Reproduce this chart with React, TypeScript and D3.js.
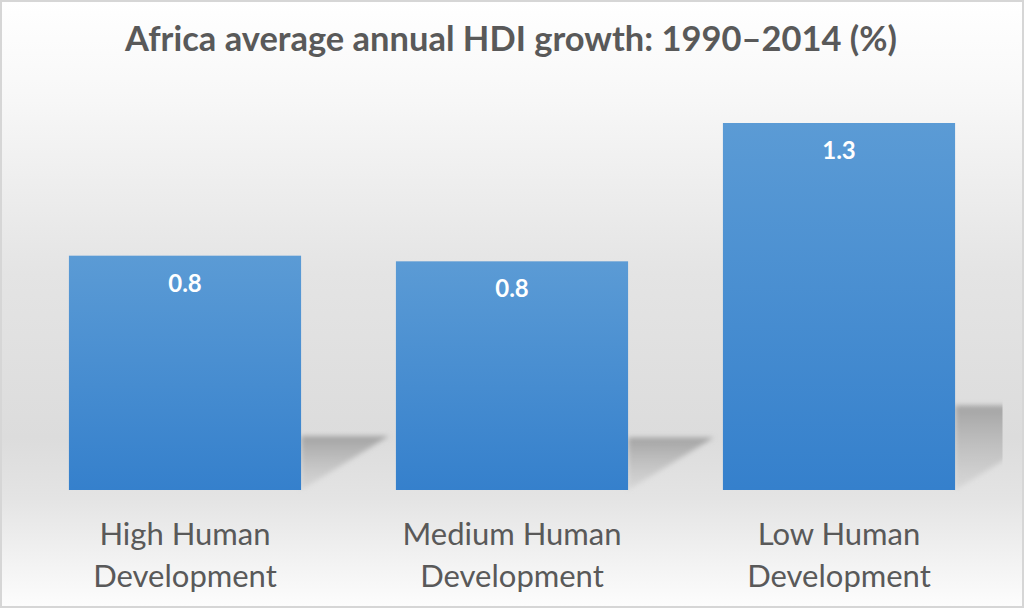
import React from "react";
import * as d3 from "d3";

const categories: string[][] = [
  ["High Human", "Development"],
  ["Medium Human", "Development"],
  ["Low Human", "Development"],
];
const values: number[] = [0.83, 0.81, 1.3];
const title = "Africa average annual HDI growth: 1990–2014 (%)";

const W = 1024;
const H = 608;
const plotLeft = 21.5;
const plotRight = 1002.5;
const baseY = 490;
const topY = 123;

export default function App() {
  const x = d3
    .scaleBand<number>()
    .domain(values.map((_, i) => i))
    .range([plotLeft, plotRight])
    .paddingInner(0.29)
    .paddingOuter(0.145);
  const y = d3.scaleLinear().domain([0, d3.max(values) as number]).range([baseY, topY]);
  const fmt = d3.format(".1f");
  const bw = x.bandwidth();

  return (
    <svg
      width={W}
      height={H}
      style={{ position: "absolute", left: 0, top: 0, display: "block" }}
    >
      <defs>
        <linearGradient id="bg" x1="0" y1="0" x2="0" y2="1">
          <stop offset="0" stopColor="#ffffff" />
          <stop offset="0.15" stopColor="#f8f8f8" />
          <stop offset="0.45" stopColor="#e4e4e4" />
          <stop offset="0.72" stopColor="#dcdcdc" />
          <stop offset="0.82" stopColor="#e4e4e4" />
          <stop offset="1" stopColor="#fdfdfd" />
        </linearGradient>
        <linearGradient id="bar" x1="0" y1="0" x2="0" y2="1">
          <stop offset="0" stopColor="#5b9bd5" />
          <stop offset="1" stopColor="#3580cc" />
        </linearGradient>
        <linearGradient id="shadow" x1="0" y1="0" x2="0" y2="1">
          <stop offset="0" stopColor="#999999" stopOpacity="0.85" />
          <stop offset="0.5" stopColor="#aaaaaa" stopOpacity="0.55" />
          <stop offset="1" stopColor="#bbbbbb" stopOpacity="0.3" />
        </linearGradient>
        <filter id="blur" x="-20%" y="-20%" width="140%" height="140%">
          <feGaussianBlur stdDeviation="2.5" />
        </filter>
        <clipPath id="plotClip">
          <rect x={0} y={0} width={plotRight} height={H} />
        </clipPath>
      </defs>
      <rect x={0} y={0} width={W} height={H} fill="url(#bg)" />
      <rect x={1} y={1} width={W - 2} height={H - 2} fill="none" stroke="#d6d6d6" strokeWidth={2} />
      <text
        x={W / 2 - 1}
        y={51}
        textAnchor="middle"
        fontFamily="Lato, 'Open Sans', sans-serif"
        fontWeight="bold"
        fontSize={34}
        fill="#595959"
        textLength={772}
        lengthAdjust="spacingAndGlyphs"
      >
        {title}
      </text>
      <g clipPath="url(#plotClip)">
        {values.map((v, i) => {
          const x1 = (x(i) as number) + bw;
          const h = baseY - y(v);
          const ys = baseY - 0.23 * h;
          const dx = 0.375 * h;
          const pts = `${x1},${ys} ${x1 + dx},${ys} ${x1},${baseY}`;
          return (
            <polygon key={i} points={pts} fill="url(#shadow)" filter="url(#blur)" />
          );
        })}
      </g>
      {values.map((v, i) => (
        <rect
          key={i}
          x={x(i) as number}
          y={y(v)}
          width={bw}
          height={baseY - y(v)}
          fill="url(#bar)"
        />
      ))}
      {values.map((v, i) => (
        <text
          key={i}
          x={(x(i) as number) + bw / 2}
          y={y(v) + 36}
          textAnchor="middle"
          fontFamily="Lato, 'Open Sans', sans-serif"
          fontWeight="bold"
          fontSize={24}
          fill="#ffffff"
        >
          {fmt(v)}
        </text>
      ))}
      {categories.map((lines, i) =>
        lines.map((t, j) => (
          <text
            key={`${i}-${j}`}
            x={(x(i) as number) + bw / 2}
            y={545 + j * 42}
            textAnchor="middle"
            fontFamily="Lato, 'Open Sans', sans-serif"
            fontSize={31}
            fill="#595959"
          >
            {t}
          </text>
        ))
      )}
    </svg>
  );
}
